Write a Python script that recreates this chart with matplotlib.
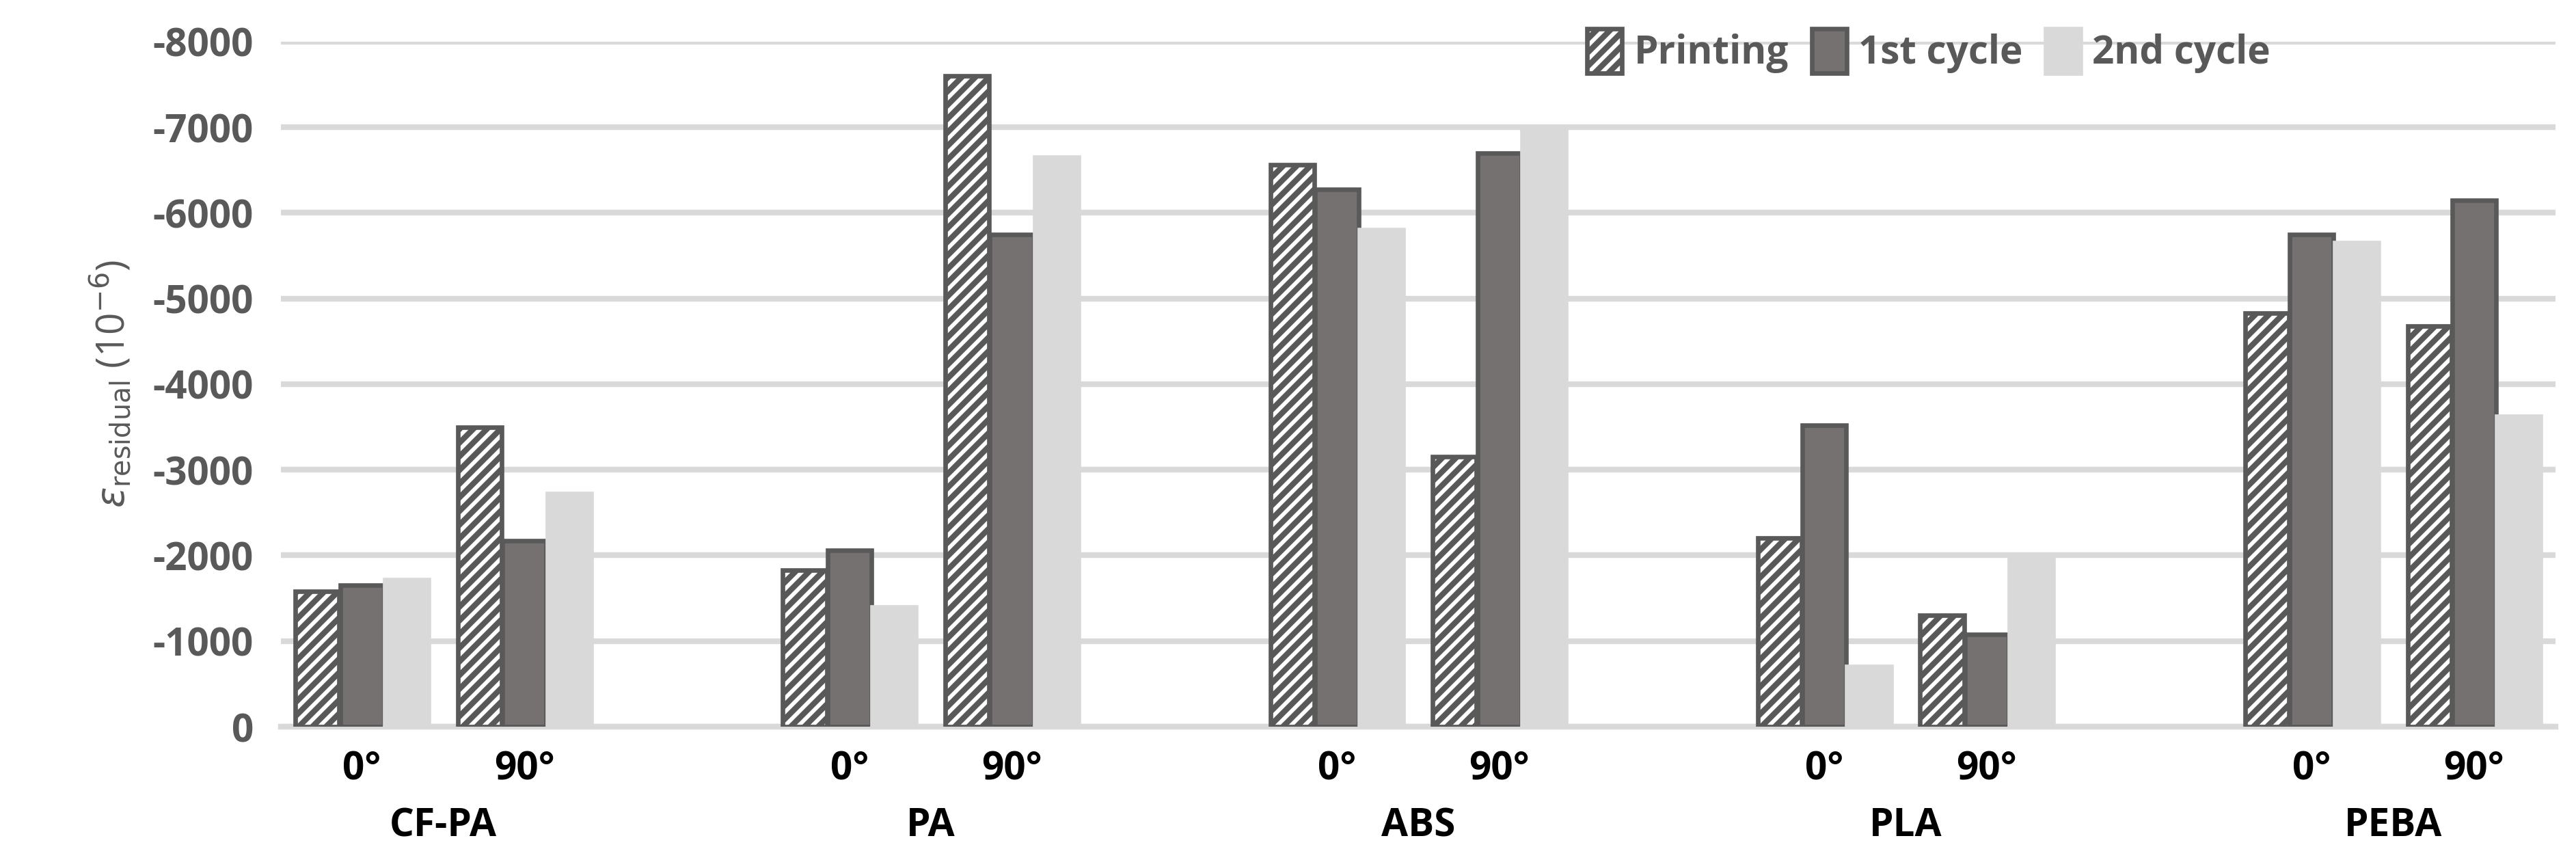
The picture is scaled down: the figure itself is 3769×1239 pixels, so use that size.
import matplotlib
matplotlib.use("Agg")
import matplotlib.pyplot as plt
import numpy as np

plt.rcParams['font.family'] = ['Open Sans', 'DejaVu Sans']
plt.rcParams['hatch.linewidth'] = 2.5
plt.rcParams['hatch.color'] = '#595959'

materials = ['CF-PA', 'PA', 'ABS', 'PLA', 'PEBA']
orients = ['0°', '90°']
series = ['Printing', '1st cycle', '2nd cycle']
printing = [1580, 3500, 1830, 7600, 6560, 3150, 2200, 1300, 4830, 4680]
cycle1 = [1650, 2170, 2060, 5750, 6270, 6700, 3520, 1080, 5750, 6150]
cycle2 = [1720, 2720, 1400, 6650, 5800, 7000, 700, 1970, 5650, 3620]
yticks = [0, 1000, 2000, 3000, 4000, 5000, 6000, 7000, 8000]

fig = plt.figure(figsize=(3769/240, 1239/240), dpi=240)
ax = fig.add_axes([0.109, 0.142, 0.883, 0.809])

pos = np.array([m*3 + o for m in range(len(materials)) for o in range(2)], dtype=float)
w = 0.27
ax.bar(pos - w - 0.005, printing, w, color='white', edgecolor='#595959', hatch='////', linewidth=2, label=series[0], zorder=3)
ax.bar(pos, cycle1, w, color='#767171', edgecolor='#595959', linewidth=2, label=series[1], zorder=3)
ax.bar(pos + w + 0.005, cycle2, w, color='#d9d9d9', edgecolor='#d9d9d9', linewidth=2, label=series[2], zorder=3)

ax.set_xlim(-0.5, 13.5)
ax.set_ylim(0, 8000)
ax.set_yticks(yticks)
ax.set_yticklabels(['0' if v == 0 else f'-{v}' for v in yticks], fontsize=17, color='#595959', fontweight='bold')
ax.yaxis.grid(True, color='#d9d9d9', linewidth=2.5, zorder=0)
ax.set_axisbelow(True)
for s in ['top', 'right', 'left']:
    ax.spines[s].set_visible(False)
ax.spines['bottom'].set_color('#d9d9d9')
ax.spines['bottom'].set_linewidth(2.5)
ax.tick_params(axis='y', length=0, pad=12)
ax.set_xticks([])

for i, p in enumerate(pos):
    ax.text(p, -0.062, orients[i % 2], transform=ax.get_xaxis_transform(), ha='center', va='center',
            fontsize=17, fontweight='bold', color='black')
for m, name in enumerate(materials):
    ax.text(m*3 + 0.5, -0.145, name, transform=ax.get_xaxis_transform(), ha='center', va='center',
            fontsize=17, fontweight='bold', color='black')

ax.set_ylabel(r'$\varepsilon_{\mathrm{residual}}$ (10$^{-6}$)', fontsize=17, color='#595959', labelpad=8)

ax.legend(loc='upper right', bbox_to_anchor=(0.89, 1.07), ncol=3, frameon=False,
          handlelength=0.9, handleheight=1.4, handletextpad=0.3, columnspacing=0.6,
          prop={'weight': 'bold', 'size': 17}, labelcolor='#595959')

fig.savefig('out.png', dpi=240)
